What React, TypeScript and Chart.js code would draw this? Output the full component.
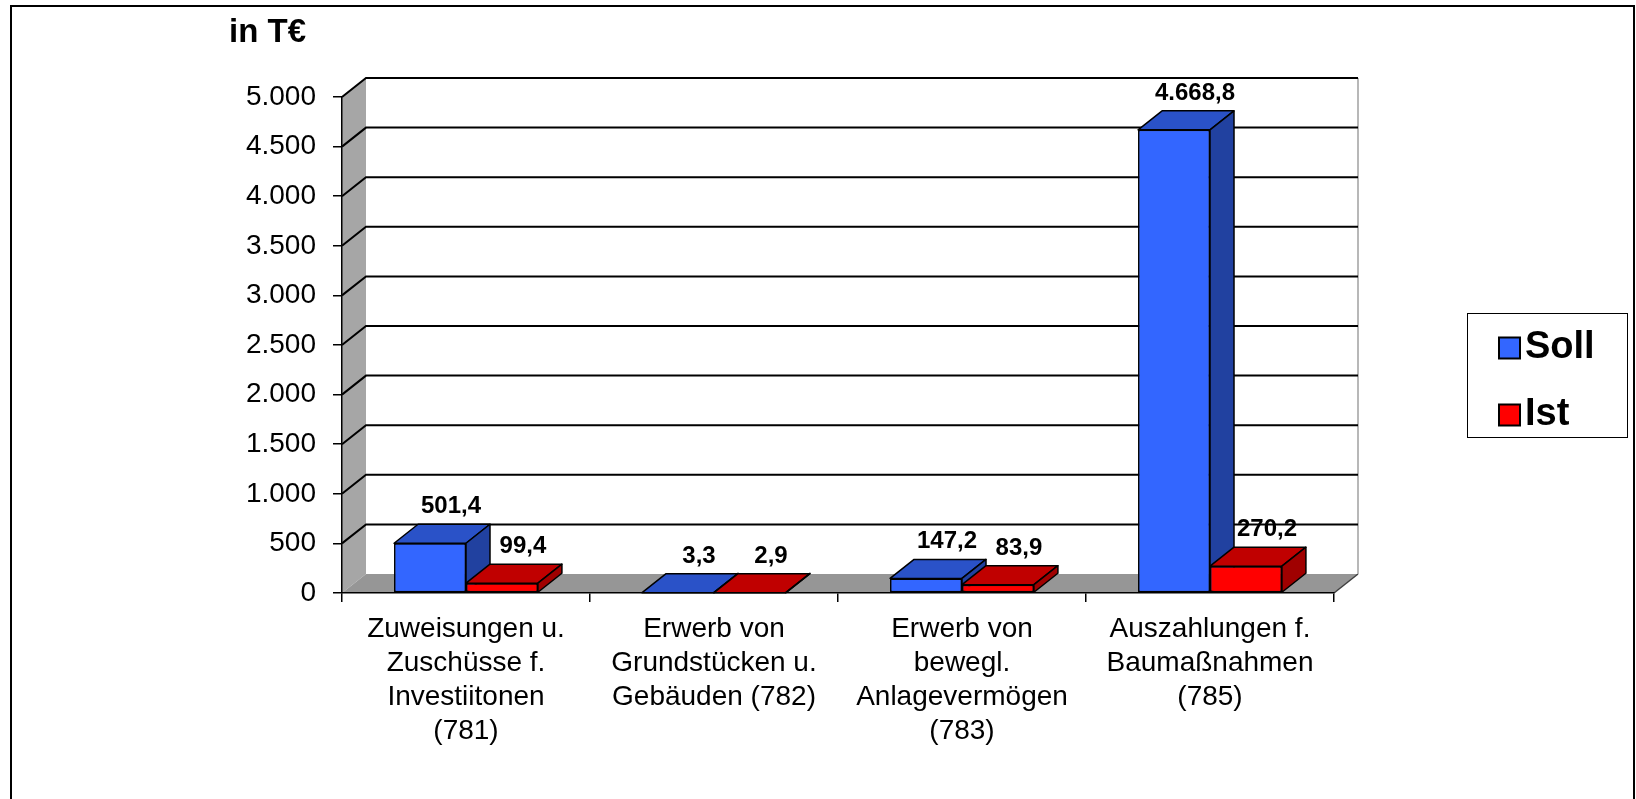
import React, { useEffect, useRef } from "react";
import { Chart, registerables } from "chart.js";

Chart.register(...registerables);

const categories: string[][] = [
  ["Zuweisungen u.", "Zuschüsse f.", "Investiitonen", "(781)"],
  ["Erwerb von", "Grundstücken u.", "Gebäuden (782)"],
  ["Erwerb von", "bewegl.", "Anlagevermögen", "(783)"],
  ["Auszahlungen f.", "Baumaßnahmen", "(785)"],
];
const sollValues = [501.4, 3.3, 147.2, 4668.8];
const istValues = [99.4, 2.9, 83.9, 270.2];
const seriesNames = ["Soll", "Ist"];
const yMin = 0;
const yMax = 5000;
const yStep = 500;
const unitLabel = "in T€";

const FRONT = ["#3366FF", "#FF0000"];
const TOP = ["#2A52C8", "#C00000"];
const SIDE = ["#2141A0", "#A00000"];
const DX = 24;
const DY = 19;
const FONT = "'Liberation Sans', Arial, sans-serif";

function fmt(v: number, decimals: number): string {
  const [i, d] = v.toFixed(decimals).split(".");
  const ii = i.replace(/\B(?=(\d{3})+(?!\d))/g, ".");
  return d ? ii + "," + d : ii;
}

const threeD = {
  id: "threeD",
  beforeDraw(chart: any) {
    const ctx = chart.ctx as CanvasRenderingContext2D;
    const { left, right, top, bottom } = chart.chartArea;
    const ys = chart.scales.y;
    ctx.save();
    // outer frame
    ctx.strokeStyle = "#000";
    ctx.lineWidth = 2;
    ctx.beginPath();
    ctx.moveTo(11, 820);
    ctx.lineTo(11, 6);
    ctx.lineTo(1634, 6);
    ctx.lineTo(1634, 820);
    ctx.stroke();
    // left wall
    ctx.fillStyle = "#a6a6a6";
    ctx.beginPath();
    ctx.moveTo(left, top);
    ctx.lineTo(left + DX, top - DY);
    ctx.lineTo(left + DX, bottom - DY);
    ctx.lineTo(left, bottom);
    ctx.closePath();
    ctx.fill();
    // floor
    ctx.fillStyle = "#969696";
    ctx.beginPath();
    ctx.moveTo(left, bottom);
    ctx.lineTo(right, bottom);
    ctx.lineTo(right + DX, bottom - DY);
    ctx.lineTo(left + DX, bottom - DY);
    ctx.closePath();
    ctx.fill();
    ctx.strokeStyle = "#404040";
    ctx.lineWidth = 1.5;
    ctx.beginPath();
    ctx.moveTo(right, bottom);
    ctx.lineTo(right + DX, bottom - DY);
    ctx.stroke();
    // back wall right edge
    ctx.strokeStyle = "#a0a0a0";
    ctx.lineWidth = 1.5;
    ctx.beginPath();
    ctx.moveTo(right + DX, top - DY);
    ctx.lineTo(right + DX, bottom - DY);
    ctx.stroke();
    // gridlines
    ctx.strokeStyle = "#000";
    ctx.lineWidth = 2;
    for (const t of ys.ticks) {
      if (t.value <= yMin) continue;
      const py = ys.getPixelForValue(t.value);
      ctx.beginPath();
      ctx.moveTo(left, py);
      ctx.lineTo(left + DX, py - DY);
      ctx.lineTo(right + DX, py - DY);
      ctx.stroke();
    }
    ctx.restore();
  },
  afterDatasetsDraw(chart: any) {
    const ctx = chart.ctx as CanvasRenderingContext2D;
    const metas = [chart.getDatasetMeta(0), chart.getDatasetMeta(1)];
    ctx.save();
    ctx.lineJoin = "round";
    for (let j = 0; j < categories.length; j++) {
      metas.forEach((meta: any, di: number) => {
        const bar = meta.data[j];
        const { x, y, base, width } = bar.getProps(["x", "y", "base", "width"], true);
        const xl = x - width / 2;
        const xr = x + width / 2;
        ctx.strokeStyle = "#000";
        ctx.lineWidth = 1.5;
        // top face
        ctx.fillStyle = TOP[di];
        ctx.beginPath();
        ctx.moveTo(xl, y);
        ctx.lineTo(xr, y);
        ctx.lineTo(xr + DX, y - DY);
        ctx.lineTo(xl + DX, y - DY);
        ctx.closePath();
        ctx.fill();
        ctx.stroke();
        // side face
        ctx.fillStyle = SIDE[di];
        ctx.beginPath();
        ctx.moveTo(xr, y);
        ctx.lineTo(xr + DX, y - DY);
        ctx.lineTo(xr + DX, base - DY);
        ctx.lineTo(xr, base);
        ctx.closePath();
        ctx.fill();
        ctx.stroke();
        // front face
        bar.draw(ctx);
      });
    }
    // data labels
    ctx.fillStyle = "#000";
    ctx.font = `bold 24px ${FONT}`;
    ctx.textAlign = "center";
    ctx.textBaseline = "alphabetic";
    metas.forEach((meta: any, di: number) => {
      const values = di === 0 ? sollValues : istValues;
      meta.data.forEach((bar: any, j: number) => {
        const { x, y } = bar.getProps(["x", "y"], true);
        ctx.fillText(fmt(values[j], 1), x + 21, y - DY - 11);
      });
    });
    ctx.restore();
  },
  afterDraw(chart: any) {
    const ctx = chart.ctx as CanvasRenderingContext2D;
    ctx.save();
    // unit label
    ctx.fillStyle = "#000";
    ctx.font = `bold 33px ${FONT}`;
    ctx.textAlign = "left";
    ctx.textBaseline = "alphabetic";
    ctx.fillText(unitLabel, 229, 42);
    // legend
    ctx.strokeStyle = "#000";
    ctx.lineWidth = 1;
    ctx.strokeRect(1467.5, 313.5, 160, 124);
    const rows = [348, 415];
    seriesNames.forEach((name, i) => {
      const cy = rows[i];
      ctx.fillStyle = FRONT[i];
      ctx.fillRect(1499, cy - 10.5, 21, 21);
      ctx.strokeStyle = "#000";
      ctx.lineWidth = 2;
      ctx.strokeRect(1499, cy - 10.5, 21, 21);
      ctx.fillStyle = "#000";
      ctx.font = `bold 38px ${FONT}`;
      ctx.textBaseline = "middle";
      ctx.fillText(name, 1525, cy);
    });
    ctx.restore();
  },
};

export default function App() {
  const canvasRef = useRef<HTMLCanvasElement>(null);
  useEffect(() => {
    const canvas = canvasRef.current;
    if (!canvas) return;
    const chart = new Chart(canvas, {
      type: "bar",
      data: {
        labels: categories,
        datasets: [
          {
            label: seriesNames[0],
            data: sollValues,
            backgroundColor: FRONT[0],
            borderColor: "#000",
            borderWidth: 1.5,
            borderSkipped: false,
          },
          {
            label: seriesNames[1],
            data: istValues,
            backgroundColor: FRONT[1],
            borderColor: "#000",
            borderWidth: 1.5,
            borderSkipped: false,
          },
        ],
      },
      options: {
        responsive: false,
        maintainAspectRatio: false,
        animation: false,
        events: [],
        layout: { padding: { left: 242, right: 302, top: 97, bottom: 46 } },
        datasets: { bar: { categoryPercentage: 0.58, barPercentage: 1 } },
        plugins: { legend: { display: false }, tooltip: { enabled: false }, title: { display: false } },
        scales: {
          x: {
            grid: { display: true, drawOnChartArea: false, drawTicks: true, tickLength: 9, color: "#000", lineWidth: 1.5, offset: true },
            border: { display: true, color: "#000", width: 1.5 },
            ticks: { color: "#000", font: { family: FONT, size: 28, lineHeight: 1.22 }, padding: 10, maxRotation: 0, autoSkip: false },
            afterFit: (s: any) => { s.height = 160; },
          },
          y: {
            min: yMin,
            max: yMax,
            grid: { display: true, drawOnChartArea: false, drawTicks: true, tickLength: 9, color: "#000", lineWidth: 1.5 },
            border: { display: true, color: "#000", width: 1.5 },
            ticks: { stepSize: yStep, color: "#000", font: { family: FONT, size: 28 }, padding: 17, callback: (v: any) => fmt(Number(v), 0) },
            afterFit: (s: any) => { s.width = 100; },
          },
        },
      },
      plugins: [threeD],
    });
    return () => chart.destroy();
  }, []);
  return (
    <div style={{ position: "fixed", left: 0, top: 0, width: 1636, height: 799, background: "#fff" }}>
      <canvas ref={canvasRef} width={1636} height={799} style={{ display: "block", width: 1636, height: 799 }} />
    </div>
  );
}
